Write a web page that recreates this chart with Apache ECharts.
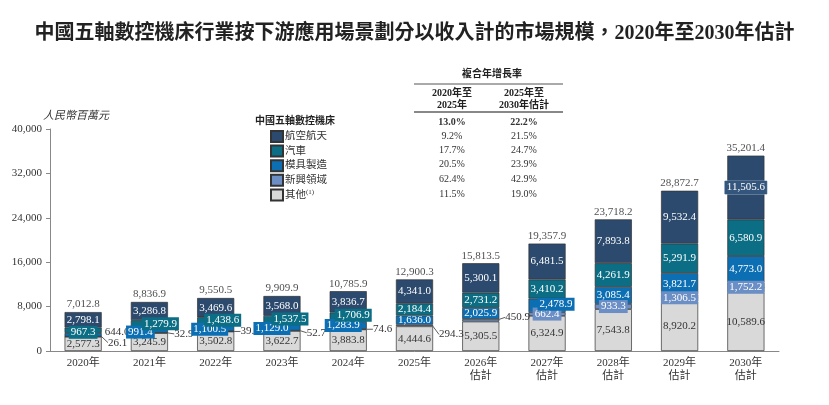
<!DOCTYPE html>
<html>
<head>
<meta charset="utf-8">
<script src="https://cdn.jsdelivr.net/npm/echarts@6/dist/echarts.min.js"></script>
<style>
  html, body { margin: 0; padding: 0; background: #fff; }
  #main { width: 829px; height: 405px; }
</style>
</head>
<body>
<div id="main"></div>
<script>
var years = ['2020年', '2021年', '2022年', '2023年', '2024年', '2025年',
             '2026年\n估計', '2027年\n估計', '2028年\n估計', '2029年\n估計', '2030年\n估計'];

var aero  = [2798.1, 3286.8, 3469.6, 3568.0, 3836.7, 4341.0, 5300.1, 6481.5, 7893.8, 9532.4, 11505.6];
var auto  = [967.3, 1279.9, 1438.6, 1537.5, 1706.9, 2184.4, 2731.2, 3410.2, 4261.9, 5291.9, 6580.9];
var mold  = [644.0, 991.4, 1100.5, 1129.0, 1283.9, 1636.0, 2025.9, 2478.9, 3085.4, 3821.7, 4773.0];
var emerging = [26.1, 32.9, 39.1, 52.7, 74.6, 294.3, 450.9, 662.4, 933.3, 1306.5, 1752.2];
var others = [2577.3, 3245.9, 3502.8, 3622.7, 3883.8, 4444.6, 5305.5, 6324.9, 7543.8, 8920.2, 10589.6];
var totals = [7012.8, 8836.9, 9550.5, 9909.9, 10785.9, 12900.3, 15813.5, 19357.9, 23718.2, 28872.7, 35201.4];

var seriesNames = ['航空航天', '汽車', '模具製造', '新興領域', '其他'];
var cagr2020 = ['13.0%', '9.2%', '17.7%', '20.5%', '62.4%', '11.5%'];
var cagr2025 = ['22.2%', '21.5%', '24.7%', '23.9%', '42.9%', '19.0%'];

var colors = {
  aero: '#2c4a6e',
  auto: '#0b6e84',
  mold: '#0c6fb3',
  emerging: '#6b8ec4',
  others: '#d9d9d9'
};

var serif = '"Liberation Serif", "Noto Sans CJK TC", serif';

function fmt(v) {
  return v.toLocaleString('en-US', {minimumFractionDigits: 1, maximumFractionDigits: 1});
}

// per-item label tweaks for the small segments
function boxed(bg, offset) {
  return {position: 'inside', offset: offset || [0, 0], backgroundColor: bg,
          color: '#fff', padding: [1, 2]};
}

function withLabels(values, tweak) {
  return values.map(function (v, i) {
    var t = tweak(i);
    return t ? {value: v, label: t} : v;
  });
}

var emergingDy = [6, 1, 0, 2, 0, 9, -3];

var autoData = withLabels(auto, function (i) {
  var offs = [[0, 2], [11, 0], [7, -1], [8, -1], [5, -2]];
  if (i <= 4) return boxed(colors.auto, offs[i]);
  return null;
});

var moldData = withLabels(mold, function (i) {
  if (i === 0) return {position: 'right', color: '#333', offset: [0, -3], distance: 3};
  var offs = {1: [-9, 2], 2: [-6, 1], 3: [-10, 1], 4: [-5, 0], 7: [9, -1]};
  if (offs[i]) return boxed(colors.mold, offs[i]);
  return null;
});

var emergingData = withLabels(emerging, function (i) {
  if (i <= 6) return {position: 'right', color: '#333', distance: 6};
  if (i === 7) return boxed(colors.emerging, [-10, 1]);
  return boxed(colors.emerging, [0, 0]);
});

var aeroData = withLabels(aero, function (i) {
  if (i === 10) return {position: 'inside', backgroundColor: '#34557c', borderColor: '#8aa0bb',
                        borderWidth: 0.5, padding: [1, 2], color: '#fff'};
  return null;
});

function barSeries(name, data, color, textColor) {
  return {
    name: name,
    type: 'bar',
    stack: 'total',
    barWidth: '56%',
    data: data,
    itemStyle: {color: color, borderColor: '#333', borderWidth: 0.7},
    label: {
      show: true,
      position: 'inside',
      fontFamily: serif,
      fontSize: 11,
      color: textColor,
      formatter: function (p) { return fmt(p.value); }
    }
  };
}

var emergingSeries = barSeries('新興領域', emergingData, colors.emerging, '#fff');
emergingSeries.labelLine = {show: true, lineStyle: {color: '#333', width: 0.8}};
emergingSeries.labelLayout = function (p) {
  if (p.dataIndex <= 6) return {dy: emergingDy[p.dataIndex]};
  return {};
};

// CAGR table drawn as text
var graphics = [];
var tableRows = [122, 136, 150, 164.5, 179, 194];
graphics.push({type: 'text', left: 'center', top: 24,
  style: {text: '中國五軸數控機床行業按下游應用場景劃分以收入計的市場規模，2020年至2030年估計',
          font: 'bold 20px ' + serif, fill: '#222'}});
graphics.push({type: 'text', x: 43, y: 111,
  style: {text: '人民幣百萬元', font: 'italic 11px ' + serif, fill: '#333'}});
graphics.push({type: 'text', x: 255, y: 116,
  style: {text: '中國五軸數控機床', font: 'bold 10px ' + serif, fill: '#222'}});
graphics.push({type: 'text', x: 492, y: 74,
  style: {text: '複合年增長率', font: 'bold 10px ' + serif, fill: '#222', align: 'center', verticalAlign: 'middle'}});
graphics.push({type: 'line', shape: {x1: 414, y1: 84, x2: 563, y2: 84}, style: {stroke: '#555', lineWidth: 1}});
graphics.push({type: 'text', x: 452, y: 99,
  style: {text: '2020年至\n2025年', font: 'bold 10px ' + serif, fill: '#222', align: 'center',
          verticalAlign: 'middle', lineHeight: 12}});
graphics.push({type: 'text', x: 524, y: 99,
  style: {text: '2025年至\n2030年估計', font: 'bold 10px ' + serif, fill: '#222', align: 'center',
          verticalAlign: 'middle', lineHeight: 12}});
graphics.push({type: 'line', shape: {x1: 414, y1: 112, x2: 563, y2: 112}, style: {stroke: '#888', lineWidth: 2}});
tableRows.forEach(function (y, r) {
  var weight = r === 0 ? 'bold ' : '';
  graphics.push({type: 'text', x: 452, y: y,
    style: {text: cagr2020[r], font: weight + '10px ' + serif, fill: '#333', align: 'center', verticalAlign: 'middle'}});
  graphics.push({type: 'text', x: 524, y: y,
    style: {text: cagr2025[r], font: weight + '10px ' + serif, fill: '#333', align: 'center', verticalAlign: 'middle'}});
});

var myChart = echarts.init(document.getElementById('main'));

var option = {
  animation: false,
  textStyle: {fontFamily: serif},
  grid: {left: 50, right: 50, top: 129, bottom: 54},
  legend: {
    orient: 'vertical',
    left: 265,
    top: 125,
    itemWidth: 12,
    itemHeight: 11,
    itemGap: 1.6,
    icon: 'rect',
    data: seriesNames,
    formatter: function (name) { return name === '其他' ? '其他{sup|(1)}' : name; },
    textStyle: {
      fontFamily: serif, fontSize: 10.5, color: '#333', padding: [0, 0, 0, -3],
      rich: {sup: {fontSize: 7, verticalAlign: 'top', padding: [0, 0, 5, 0], color: '#333'}}
    }
  },
  xAxis: {
    type: 'category',
    data: years,
    axisLine: {lineStyle: {color: '#888'}},
    axisTick: {show: false},
    axisLabel: {fontFamily: serif, fontSize: 11, color: '#333', margin: 6, lineHeight: 13}
  },
  yAxis: {
    type: 'value',
    min: 0,
    max: 40000,
    interval: 8000,
    splitLine: {show: false},
    axisLine: {show: true, lineStyle: {color: '#888'}},
    axisTick: {show: true, length: 4, lineStyle: {color: '#888'}},
    axisLabel: {fontFamily: serif, fontSize: 11, color: '#333', margin: 8,
                formatter: function (v) { return v.toLocaleString('en-US'); }}
  },
  graphic: graphics,
  series: [
    barSeries('其他', others, colors.others, '#333'),
    emergingSeries,
    barSeries('模具製造', moldData, colors.mold, '#fff'),
    barSeries('汽車', autoData, colors.auto, '#fff'),
    barSeries('航空航天', aeroData, colors.aero, '#fff'),
    {
      name: 'total',
      type: 'scatter',
      data: totals,
      symbolSize: 0,
      silent: true,
      label: {
        show: true, position: 'top', distance: 2, fontFamily: serif, fontSize: 11, color: '#222',
        formatter: function (p) { return fmt(p.value); }
      }
    }
  ]
};

myChart.setOption(option);
</script>
</body>
</html>
